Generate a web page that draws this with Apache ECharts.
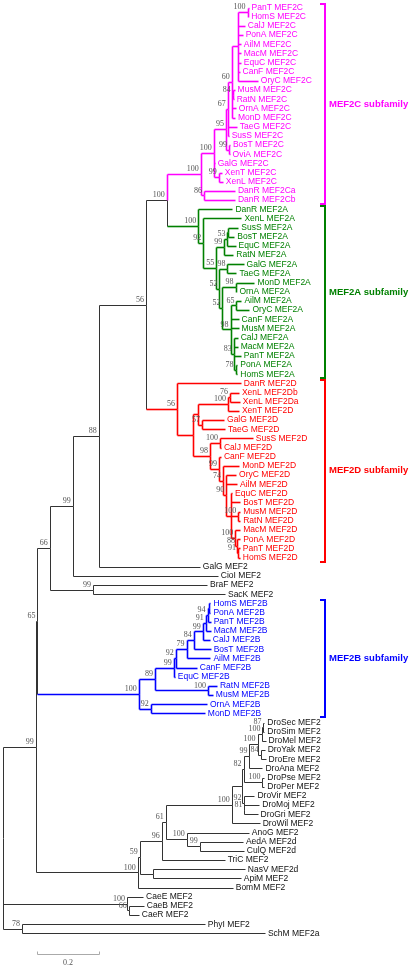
<!DOCTYPE html>
<html><head><meta charset="utf-8">
<script src="https://cdn.jsdelivr.net/npm/echarts@6/dist/echarts.min.js"></script>
<style>html,body{margin:0;padding:0;background:#fff}#c{width:413px;height:970px}</style>
</head><body><div id="c"></div>
<script>
// ---- DATA: tree clades in Newick form (branch lengths in substitutions/site, internal labels = bootstrap) ----
const mef2cClade = "(((((((PanT MEF2C:0.003,HomS MEF2C:0.002)100:0.032,CalJ MEF2C:0.023,PonA MEF2C:0.016,AilM MEF2C:0.010,MacM MEF2C:0.010,EquC MEF2C:0.010,CanF MEF2C:0.006,OryC MEF2C:0.065):0.019,(MusM MEF2C:0.006,RatN MEF2C:0.003)84:0.003,OrnA MEF2C:0.013,MonD MEF2C:0.010)60:0.013,TaeG MEF2C:0.029,SusS MEF2C:0.003)67:0.006,(BosT MEF2C:0.003,OviA MEF2C:0.002)99:0.010)95:0.039,GalG MEF2C:0.003,(XenT MEF2C:0.010,XenL MEF2C:0.013)99:0.016)100:0.042,(DanR MEF2Ca:0.100,DanR MEF2Cb:0.100)86:0.010)100";
const mef2aClade = "(DanR MEF2A:0.110,(XenL MEF2A:0.123,((((SusS MEF2A:0.032,BosT MEF2A:0.019):0.003,EquC MEF2A:0.026)53:0.010,RatN MEF2A:0.029)99:0.026,((GalG MEF2A:0.052,TaeG MEF2A:0.029)98:0.026,((MonD MEF2A:0.061,OrnA MEF2A:0.003)98:0.042,((AilM MEF2A:0.016,OryC MEF2A:0.042)65:0.019,CanF MEF2A:0.026,MusM MEF2A:0.026,(CalJ MEF2A:0.013,MacM MEF2A:0.013,PanT MEF2A:0.023,(PonA MEF2A:0.006,HomS MEF2A:0.006)78:0.006)83:0.010)98:0.026)52:0.010)52:0.010)55:0.042)92:0.016)100";
const mef2dClade = "(DanR MEF2D:0.206,((((XenL MEF2Db:0.029,XenL MEF2Da:0.032)76:0.006,XenT MEF2D:0.035)100:0.097,(GalG MEF2D:0.071,TaeG MEF2D:0.074)57:0.013):0.016,((SusS MEF2D:0.106,CalJ MEF2D:0.003)100:0.032,(CanF MEF2D:0.006,(MonD MEF2D:0.052,(OryC MEF2D:0.032,AilM MEF2D:0.035,(EquC MEF2D:0.003,BosT MEF2D:0.029,(MusM MEF2D:0.006,RatN MEF2D:0.006)100:0.023,(MacM MEF2D:0.016,(PonA MEF2D:0.010,(PanT MEF2D:0.006,HomS MEF2D:0.006)91:0.003)88:0.006)100:0.013):0.016)90:0.010)74:0.013)99:0.029)98:0.055):0.052)56";
const mef2bClade = "((((((((((HomS MEF2B:0.006,PonA MEF2B:0.006):0.003,PanT MEF2B:0.010)94:0.006,MacM MEF2B:0.016)91:0.010,CalJ MEF2B:0.023)99:0.029,BosT MEF2B:0.055)84:0.023,AilM MEF2B:0.077)79:0.035,CanF MEF2B:0.068)92:0.006,EquC MEF2B:0.003)99:0.061,(RatN MEF2B:0.029,MusM MEF2B:0.016)100:0.171)89:0.052,(OrnA MEF2B:0.181,MonD MEF2B:0.174)92:0.039)100";
const insectClade = "(((((((((((DroSec MEF2:0.003,DroSim MEF2:0.003)87:0.003,DroMel MEF2:0.010)100:0.016,(DroYak MEF2:0.013,DroEre MEF2:0.016)84:0.010)100:0.026,DroAna MEF2:0.042)99:0.019,(DroPse MEF2:0.006,DroPer MEF2:0.006)100:0.061)82:0.006,(DroVir MEF2:0.035,(DroMoj MEF2:0.048,DroGri MEF2:0.042)81:0.003)92:0.006):0.032,DroWil MEF2:0.090)100:0.213,(AnoG MEF2:0.200,(AedA MEF2d:0.139,CulQ MEF2d:0.142)99:0.042)100:0.068)61:0.013,TriC MEF2:0.203)96:0.071,(NasV MEF2d:0.297,ApiM MEF2:0.284):0.042)59:0.006,BomM MEF2:0.306)100";
const nematodeClade = "(CaeE MEF2:0.052,(CaeB MEF2:0.048,CaeR MEF2:0.032)66:0.006)100";
const outgroupClade = "(PhyI MEF2:0.590,SchM MEF2a:0.784)78";
const fullTree = `((((((((${mef2cClade}:0.110,${mef2aClade}:0.102)100:0.067,${mef2dClade}:0.100)56:0.152,GalG MEF2:0.326)88:0.084,CioI MEF2:0.468)99:0.074,(BraF MEF2:0.368,SacK MEF2:0.426)99:0.139)66:0.040,${mef2bClade}:0.327)65:0.005,${insectClade}:0.329)99:0.106,${nematodeClade}:0.400,${outgroupClade}:0.061)`;

const subfamilyNames  = ['MEF2C subfamily','MEF2A subfamily','MEF2D subfamily','MEF2B subfamily'];
const subfamilyFirst  = ['PanT MEF2C','DanR MEF2A','DanR MEF2D','HomS MEF2B'];
const subfamilyLast   = ['DanR MEF2Cb','HomS MEF2A','HomS MEF2D','MonD MEF2B'];
const subfamilyColors = ['#ff00ff','#008000','#ff0000','#0000ff'];

const scaleBarStart = 0.110, scaleBarLength = 0.2, scaleBarLabel = '0.2';

// ---- parse & layout ----
function parseNewick(s){
  let i=0;
  function node(){
    const n={children:[],name:'',len:0,boot:''};
    if(s[i]==='('){
      i++; n.children.push(node());
      while(s[i]===','){i++; n.children.push(node());}
      i++; let lab=''; while(i<s.length && !':,)'.includes(s[i])) lab+=s[i++]; n.boot=lab.trim();
    } else { let nm=''; while(i<s.length && !':,)'.includes(s[i])) nm+=s[i++]; n.name=nm.trim(); }
    if(s[i]===':'){ i++; let num=''; while(i<s.length && !',)'.includes(s[i])) num+=s[i++]; n.len=parseFloat(num); }
    return n;
  }
  return node();
}
const root = parseNewick(fullTree);
const tips=[], nodes=[];
(function lay(n, d, parent){
  n.x=d; n.parent=parent; nodes.push(n);
  if(!n.children.length){ n.y=tips.length; n.lo=n.hi=n.y; tips.push(n); }
  else { n.children.forEach(c=>lay(c, d+c.len, n)); n.y=(n.children[0].y+n.children[n.children.length-1].y)/2;
    n.lo=n.children[0].lo; n.hi=n.children[n.children.length-1].hi; }
})(root, 0, null);
const tipIndex={}; tips.forEach(t=>tipIndex[t.name]=t.y);
const ranges = subfamilyNames.map((nm,k)=>({lo:tipIndex[subfamilyFirst[k]], hi:tipIndex[subfamilyLast[k]], color:subfamilyColors[k], name:nm}));
const BLACK='#333333';
function colorOf(n){ for(const r of ranges){ if(n.lo>=r.lo && n.hi<=r.hi) return r.color; } return BLACK; }
const wOf=c=>c===BLACK?1:1.6;

const segs=[];
nodes.forEach(n=>{
  if(n.parent){ const c=colorOf(n); segs.push({x1:n.parent.x,y1:n.y,x2:n.x,y2:n.y,color:c,w:wOf(c)}); }
  if(n.children.length){
    const c=colorOf(n), first=n.children[0], last=n.children[n.children.length-1], cf=colorOf(first);
    segs.push({x1:n.x,y1:first.y,x2:n.x,y2:n.y,color:cf,w:wOf(cf)});
    segs.push({x1:n.x,y1:n.y,x2:n.x,y2:last.y,color:c,w:wOf(c)});
  }
});
const boots = nodes.filter(n=>n.children.length && n.boot);

const rnd=v=>Math.round(v)+0.5;
const chart = echarts.init(document.getElementById('c'));
chart.setOption({
  animation:false,
  grid:{left:3, top:7.5, width:403, height:964.95},
  xAxis:{type:'value', min:0, max:1.3, show:false},
  yAxis:{type:'value', min:0, max:105, inverse:true, show:false},
  series:[
    {type:'custom', clip:false, data:segs.map(s=>[s.x1,s.y1,s.x2,s.y2]),
     renderItem:(p,api)=>{ const s=segs[p.dataIndex]; const a=api.coord([s.x1,s.y1]), b=api.coord([s.x2,s.y2]);
       return {type:'line', shape:{x1:rnd(a[0]),y1:rnd(a[1]),x2:rnd(b[0]),y2:rnd(b[1])}, style:{stroke:s.color,lineWidth:s.w}}; }},
    {type:'custom', clip:false, data:tips.map(t=>[t.x,t.y]),
     renderItem:(p,api)=>{ const t=tips[p.dataIndex]; const a=api.coord([t.x,t.y]); const c=colorOf(t);
       return {type:'text', x:a[0]+3, y:a[1], style:{text:t.name, fill:c===BLACK?'#111':c, font:'8.5px "Liberation Sans", Arial, sans-serif', align:'left', verticalAlign:'middle'}}; }},
    {type:'custom', clip:false, data:boots.map(n=>[n.x,n.y]),
     renderItem:(p,api)=>{ const n=boots[p.dataIndex]; const a=api.coord([n.x,n.y]);
       return {type:'text', x:a[0]-2, y:a[1]-1, style:{text:n.boot, fill:'#555', font:'8px "Liberation Serif", "DejaVu Serif", serif', align:'right', verticalAlign:'bottom'}}; }},
    {type:'custom', clip:false, data:ranges.map(r=>[1.039,(r.lo+r.hi)/2]),
     renderItem:(p,api)=>{ const r=ranges[p.dataIndex]; const top=api.coord([1.039,r.lo-0.4]), bot=api.coord([1.039,r.hi+0.45]);
       const x=Math.round(top[0]);
       return {type:'group', children:[
         {type:'polyline', shape:{points:[[x-5,Math.round(top[1])],[x,Math.round(top[1])],[x,Math.round(bot[1])],[x-5,Math.round(bot[1])]]}, style:{stroke:r.color,lineWidth:2,fill:null}},
         {type:'text', x:x+4, y:(top[1]+bot[1])/2, style:{text:r.name, fill:r.color, font:'bold 9.5px "Liberation Sans", Arial, sans-serif', align:'left', verticalAlign:'middle'}}
       ]}; }},
    {type:'custom', clip:false, data:[[scaleBarStart,103.2]],
     renderItem:(p,api)=>{ const a=api.coord([scaleBarStart,103.2]), b=api.coord([scaleBarStart+scaleBarLength,103.2]);
       const y=rnd(a[1]);
       return {type:'group', children:[
         {type:'polyline', shape:{points:[[rnd(a[0]),y-3],[rnd(a[0]),y],[rnd(b[0]),y],[rnd(b[0]),y-3]]}, style:{stroke:'#aaa',lineWidth:1,fill:null}},
         {type:'text', x:(a[0]+b[0])/2, y:y+4, style:{text:scaleBarLabel, fill:'#555', font:'8px "Liberation Serif", serif', align:'center', verticalAlign:'top'}}
       ]}; }}
  ]
});
</script></body></html>
